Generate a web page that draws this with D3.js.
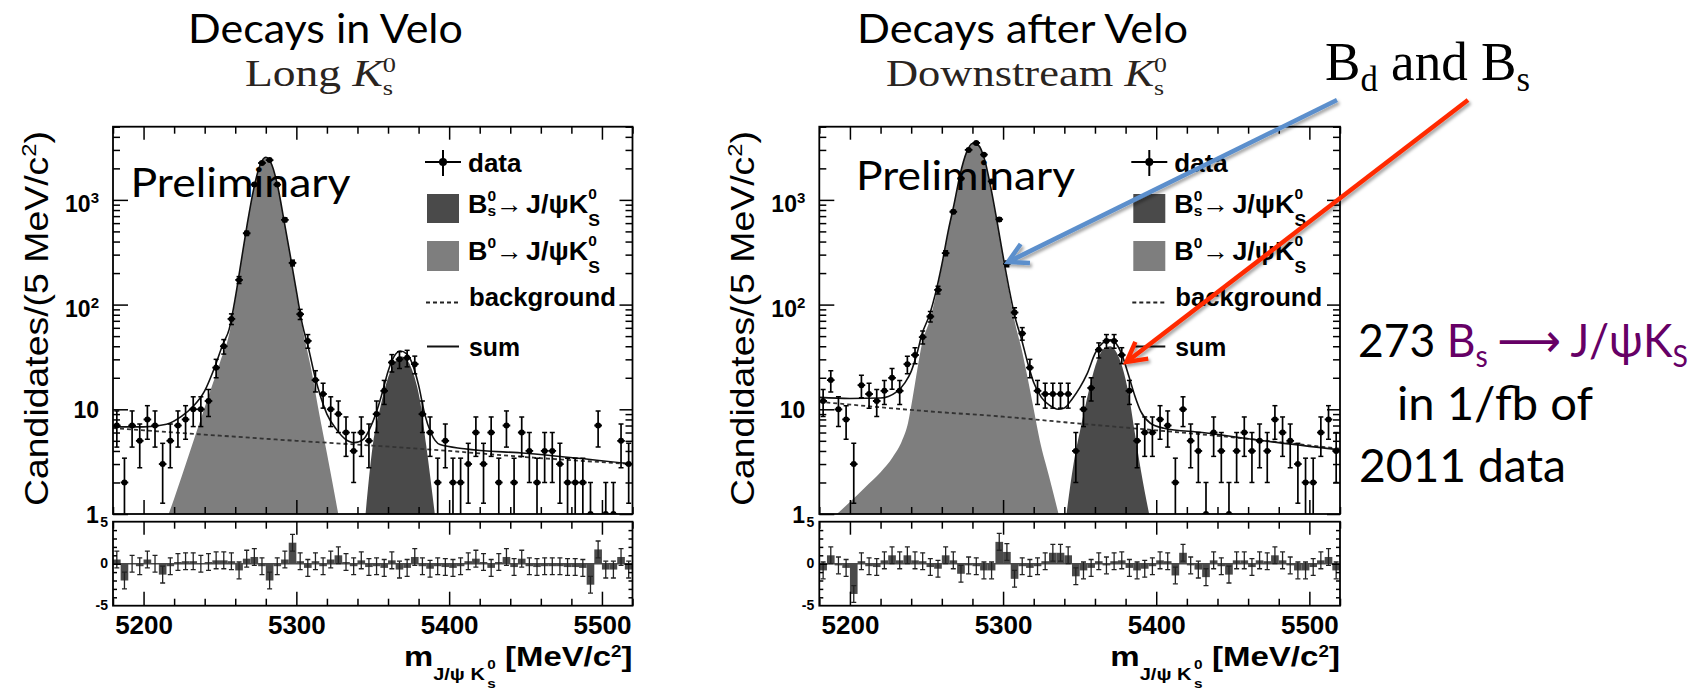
<!DOCTYPE html>
<html>
<head>
<meta charset="utf-8">
<script src="https://cdn.jsdelivr.net/npm/d3@7"></script>
<style>
body{margin:0;background:#fff;}
svg{display:block;}
text{white-space:pre;}
</style>
</head>
<body>
<svg id="chart" width="1707" height="692"></svg>
<script>
// ---- values ----
// 5 MeV bins from 5180 to 5520
var binCenters = d3.range(5182.5, 5520, 5);

var countsLong = [7,2,7,5,8,7,3,5,7,8,10,10,12,25,40,73,172,480,1400,2250,2400,1400,645,250,81,45,19,14,10,9,6,4,6,5,9,15,28,30,31,27,9,6,2,5,2,2,3,6,3,6,2,7,2,6,4,2,4,4,3,2,2,2,1,7,1,1,5,3];
var countsDown = [12,19,10,8,3,17,14,12,15,20,15,27,33,49,77,138,310,770,1600,3000,3500,2700,1500,650,245,84,53,25,15,14,14,14,14,4,10,16,37,45,45,33,15,5,6,6,8,7,2,10,5,4,1,6,4,1,4,6,4,5,4,8,6,5,3,2,2,6,8,4];

var pullsLong = [0.5,-2.0,0,-0.3,0.5,0,-1.3,-0.3,0.2,0.3,0.3,0,0.2,0.4,0.4,0.3,-0.8,0.6,0.8,-0.3,-2.0,-0.3,0.5,2.5,0.3,-0.5,0.3,-0.3,0.5,1.0,0.2,-0.3,0.4,-0.4,-0.3,-0.5,0.4,-0.7,-0.5,0.8,-0.3,-0.6,-0.3,-0.4,-0.5,-0.3,0.3,0.6,0.2,-0.5,0.2,0.8,-0.4,0.6,-0.3,-0.4,-0.3,-0.3,-0.3,-0.4,-0.4,-0.5,-2.5,1.7,-0.7,-0.7,0.8,-0.7];
var pullsDown = [-0.8,1.0,-0.2,-0.5,-3.6,0.3,-0.3,-0.4,0.4,1.0,0.4,1.0,0.4,0.3,-0.4,-0.6,1.0,0.4,-1.2,-0.2,-0.3,-0.8,-0.8,2.6,1.4,-1.8,-0.3,-0.5,-0.3,0.3,1.3,1.3,1.0,-1.5,-0.8,-0.5,0.3,-0.2,0.3,0.4,-0.5,-0.8,-0.6,-0.3,0.4,0.3,-1.4,1.3,-0.2,-0.7,-1.6,0.4,-0.3,-1.3,0.4,0.4,-0.4,0.4,0.3,1.0,0.4,-0.2,-0.8,-0.8,-0.4,0.4,0.8,-0.8];

// fit curves: [mass, candidates]
var b0Long = [[5214,0.8],[5220,1.4],[5230,3.8],[5240,10.4],[5250,28],[5256,52],[5260,110],[5264,260],[5268,600],[5272,1250],[5276,2100],[5280,2550],[5284,2150],[5288,1300],[5292,620],[5296,290],[5300,130],[5304,60],[5310,23],[5315,9],[5320,3.8],[5328,0.9]];
var bsLong = [[5345,0.9],[5350,4.5],[5355,10.5],[5360,20],[5365,29],[5369,32],[5373,29],[5377,21],[5381,12],[5385,4.5],[5391,0.9]];
var bkgLong = [[5180,6.6],[5250,5.6],[5300,5.0],[5350,4.5],[5400,4.0],[5450,3.5],[5520,3.0]];
var sumLong = [[5180,6.8],[5200,6.8],[5215,7.2],[5225,8.6],[5232,10.5],[5240,15],[5246,24],[5252,42],[5256,58],[5260,115],[5264,265],[5268,605],[5272,1255],[5276,2105],[5280,2555],[5284,2155],[5288,1305],[5292,625],[5296,295],[5300,135],[5304,64],[5308,38],[5312,21],[5316,13],[5320,9],[5326,6.5],[5332,5.2],[5338,4.8],[5344,5.2],[5348,6.5],[5352,9],[5356,14],[5360,23],[5364,32],[5368,36],[5372,34],[5376,27],[5380,17],[5384,9],[5388,6],[5394,4.6],[5410,4.2],[5450,3.8],[5520,3.0]];

var b0Down = [[5188,0.9],[5200,1.3],[5210,1.8],[5220,2.5],[5228,3.5],[5234,5],[5238,7.5],[5241,13],[5244,24],[5247,42],[5252,70],[5256,120],[5260,230],[5264,480],[5268,900],[5272,1750],[5276,2800],[5280,3450],[5284,3300],[5288,2400],[5292,1300],[5296,620],[5300,280],[5304,130],[5308,65],[5312,38],[5316,20],[5320,10],[5324,5],[5330,2.3],[5337,0.9]];
var bsDown = [[5341,0.9],[5346,3],[5351,7],[5356,15],[5361,28],[5366,38],[5370,40],[5374,35],[5378,25],[5382,14],[5386,6],[5390,2.6],[5396,0.9]];
var bkgDown = [[5180,11.8],[5250,9.6],[5300,8.5],[5350,7.3],[5400,6.3],[5450,5.4],[5520,4.2]];
var sumDown = [[5180,13],[5200,12.7],[5220,12.8],[5230,14.5],[5236,18],[5240,23],[5244,35],[5247,52],[5252,80],[5256,130],[5260,240],[5264,490],[5268,910],[5272,1760],[5276,2810],[5280,3460],[5284,3310],[5288,2410],[5292,1310],[5296,630],[5300,290],[5304,140],[5308,74],[5312,47],[5316,28],[5320,18],[5325,13],[5330,11],[5336,10],[5340,10.3],[5345,12.5],[5350,16],[5355,22],[5360,34],[5366,44],[5370,46],[5374,42],[5378,32],[5382,21],[5386,13.5],[5390,9.5],[5396,7.4],[5405,6.6],[5430,6],[5470,5],[5520,4.1]];

var xTickValues = [5200, 5300, 5400, 5500];
var yTickValues = [1, 10, 100, 1000];
var yTickLabels = [["1",""],["10",""],["10","2"],["10","3"]];
var resTickValues = [5, 0, -5];
var resTickLabels = ["5", "0", "-5"];

// ---- layout ----
var mainTop = 126.7, mainBottom = 514, resTop = 521.7, resBottom = 605.7;
var lightGrey = "#7e7e7e", darkGrey = "#4a4a4a";
var helv = "'Liberation Sans', Arial, Helvetica, sans-serif";
var calibri = "Lato, 'Open Sans', sans-serif";
var serif = "'Liberation Serif', 'DejaVu Serif', serif";

var svg = d3.select("#chart");
var defs = svg.append("defs");
var sh = defs.append("filter").attr("id", "shadow").attr("x", "-10%").attr("y", "-10%").attr("width", "130%").attr("height", "130%");
sh.append("feDropShadow").attr("dx", 2).attr("dy", 2.5).attr("stdDeviation", 1.6)
  .attr("flood-color", "#000").attr("flood-opacity", 0.35);

// text made of pieces (sup/sub); returns a group with baseline at y=0
function richText(parent, parts, base){
  var g = parent.append("g");
  var cx = 0, holdW = 0;
  parts.forEach(function(p){
    var t = g.append("text")
      .attr("x", cx).attr("y", p.dy || 0)
      .attr("font-family", p.family || base.family)
      .attr("font-size", p.size || base.size)
      .attr("font-weight", p.weight || base.weight || "normal")
      .attr("font-style", p.style || "normal")
      .attr("fill", p.fill || base.fill || "#000")
      .text(p.t);
    var w = t.node().getComputedTextLength();
    if(p.hold){ holdW = Math.max(holdW, w); }
    else { cx += Math.max(w, holdW) + (p.gap || 0); holdW = 0; }
  });
  return g;
}
// stretch a group between xa and xb, baseline y
function place(g, xa, xb, y){
  var bb = g.node().getBBox();
  var sx = (xb - xa) / bb.width;
  g.attr("transform", "translate(" + (xa - bb.x * sx) + "," + y + ") scale(" + sx + ",1)");
}
function placeRight(g, xr, y){
  var bb = g.node().getBBox();
  g.attr("transform", "translate(" + (xr - bb.x - bb.width) + "," + y + ")");
}
function placeVertical(g, yBottom, yTop, xBase){
  var bb = g.node().getBBox();
  var s = (yBottom - yTop) / bb.width;
  g.attr("transform", "translate(" + xBase + "," + (yBottom + bb.x * s) + ") rotate(-90) scale(" + s + ",1)");
}

var panels = [
  {id:"long", x0:113, x1:632.5, counts:countsLong, pulls:pullsLong, b0:b0Long, bs:bsLong, bkg:bkgLong, sum:sumLong,
   title:"Decays in Velo", titleSpan:[188,463], sub:"Long", subSpan:[245,396],
   prelimSpan:[130.5,351], prelimBase:197},
  {id:"down", x0:819.3, x1:1340, counts:countsDown, pulls:pullsDown, b0:b0Down, bs:bsDown, bkg:bkgDown, sum:sumDown,
   title:"Decays after Velo", titleSpan:[857,1188], sub:"Downstream", subSpan:[886,1167],
   prelimSpan:[856,1075.5], prelimBase:190}
];

panels.forEach(function(P){
  var x = d3.scaleLinear().domain([5180, 5520]).range([P.x0, P.x1]);
  var y = d3.scaleLog().domain([1, 5000]).range([mainBottom, mainTop]);
  var yr = d3.scaleLinear().domain([-5, 5]).range([resBottom, resTop]);
  var g = svg.append("g");

  defs.append("clipPath").attr("id", "clip-" + P.id).append("rect")
    .attr("x", P.x0).attr("y", mainTop).attr("width", P.x1 - P.x0).attr("height", mainBottom - mainTop);
  defs.append("clipPath").attr("id", "rclip-" + P.id).append("rect")
    .attr("x", P.x0).attr("y", resTop).attr("width", P.x1 - P.x0).attr("height", resBottom - resTop);

  var plot = g.append("g").attr("clip-path", "url(#clip-" + P.id + ")");
  var area = d3.area().curve(d3.curveMonotoneX)
    .x(function(d){ return x(d[0]); }).y0(mainBottom + 20).y1(function(d){ return y(d[1]); });
  var line = d3.line().curve(d3.curveMonotoneX)
    .x(function(d){ return x(d[0]); }).y(function(d){ return y(d[1]); });

  plot.append("path").attr("d", area(P.b0)).attr("fill", lightGrey);
  plot.append("path").attr("d", area(P.bs)).attr("fill", darkGrey);
  plot.append("path").attr("d", line(P.bkg)).attr("fill", "none").attr("stroke", "#333")
    .attr("stroke-width", 1.8).attr("stroke-dasharray", "4,3");
  plot.append("path").attr("d", line(P.sum)).attr("fill", "none").attr("stroke", "#111").attr("stroke-width", 1.6);

  // data points with poisson error bars
  var pts = plot.selectAll(".pt").data(binCenters.map(function(c, i){ return {c:c, n:P.counts[i]}; }))
    .enter().append("g").attr("class", "pt");
  pts.append("line")
    .attr("x1", function(d){ return x(d.c - 2.5); }).attr("x2", function(d){ return x(d.c + 2.5); })
    .attr("y1", function(d){ return y(d.n); }).attr("y2", function(d){ return y(d.n); })
    .attr("stroke", "#000").attr("stroke-width", 1.8);
  pts.append("line")
    .attr("x1", function(d){ return x(d.c); }).attr("x2", function(d){ return x(d.c); })
    .attr("y1", function(d){ return y(Math.max(d.n - Math.sqrt(d.n), 0.5)); })
    .attr("y2", function(d){ return y(d.n + Math.sqrt(d.n)); })
    .attr("stroke", "#000").attr("stroke-width", 1.7);
  [-1, 1].forEach(function(s){
    pts.append("line")
      .attr("x1", function(d){ return x(d.c) - 2.5; }).attr("x2", function(d){ return x(d.c) + 2.5; })
      .attr("y1", function(d){ return y(Math.max(d.n + s * Math.sqrt(d.n), 0.5)); })
      .attr("y2", function(d){ return y(Math.max(d.n + s * Math.sqrt(d.n), 0.5)); })
      .attr("stroke", "#000").attr("stroke-width", 1.5);
  });
  pts.append("circle").attr("cx", function(d){ return x(d.c); }).attr("cy", function(d){ return y(d.n); })
    .attr("r", 3).attr("fill", "#000");

  // residual panel
  var res = g.append("g").attr("clip-path", "url(#rclip-" + P.id + ")");
  res.append("line").attr("x1", P.x0).attr("x2", P.x1).attr("y1", yr(0)).attr("y2", yr(0))
    .attr("stroke", darkGrey).attr("stroke-width", 1.5);
  var rb = res.selectAll(".rb").data(binCenters.map(function(c, i){ return {c:c, p:P.pulls[i]}; }))
    .enter().append("g");
  rb.append("rect")
    .attr("x", function(d){ return x(d.c - 2.5); }).attr("width", x(5185) - x(5180))
    .attr("y", function(d){ return Math.min(yr(0), yr(d.p)); })
    .attr("height", function(d){ return Math.abs(yr(d.p) - yr(0)); })
    .attr("fill", darkGrey);
  rb.append("line").attr("x1", function(d){ return x(d.c); }).attr("x2", function(d){ return x(d.c); })
    .attr("y1", function(d){ return yr(d.p - 1); }).attr("y2", function(d){ return yr(d.p + 1); })
    .attr("stroke", "#222").attr("stroke-width", 1.3);
  [-1, 1].forEach(function(s){
    rb.append("line").attr("x1", function(d){ return x(d.c) - 2.5; }).attr("x2", function(d){ return x(d.c) + 2.5; })
      .attr("y1", function(d){ return yr(d.p + s); }).attr("y2", function(d){ return yr(d.p + s); })
      .attr("stroke", "#222").attr("stroke-width", 1.3);
  });

  // frames
  g.append("rect").attr("x", P.x0).attr("y", mainTop).attr("width", P.x1 - P.x0).attr("height", mainBottom - mainTop)
    .attr("fill", "none").attr("stroke", "#000").attr("stroke-width", 1.8);
  g.append("rect").attr("x", P.x0).attr("y", resTop).attr("width", P.x1 - P.x0).attr("height", resBottom - resTop)
    .attr("fill", "none").attr("stroke", "#000").attr("stroke-width", 1.8);

  // axes (ticks inside the frames, ROOT style)
  var minorX = d3.range(5180, 5521, 20).filter(function(v){ return xTickValues.indexOf(v) < 0; });
  function ticks(axis, tx, ty){
    var a = g.append("g").attr("transform", "translate(" + tx + "," + ty + ")").call(axis);
    a.select(".domain").remove();
    a.selectAll(".tick line").attr("stroke", "#000").attr("stroke-width", 1.5);
    return a;
  }
  [[mainTop, mainBottom], [resTop, resBottom]].forEach(function(fr){
    ticks(d3.axisTop(x).tickValues(xTickValues).tickSize(-13).tickFormat(""), 0, fr[0]);
    ticks(d3.axisTop(x).tickValues(minorX).tickSize(-7).tickFormat(""), 0, fr[0]);
    ticks(d3.axisBottom(x).tickValues(minorX).tickSize(-7).tickFormat(""), 0, fr[1]);
  });
  ticks(d3.axisBottom(x).tickValues(xTickValues).tickSize(-14).tickFormat(""), 0, mainBottom);
  var xa = ticks(d3.axisBottom(x).tickValues(xTickValues).tickSize(-14).tickPadding(10).tickFormat(d3.format("d")), 0, resBottom);
  xa.selectAll("text").attr("font-family", helv).attr("font-size", 26).attr("font-weight", "bold").attr("fill", "#000");

  var minorY = [];
  [1, 10, 100, 1000].forEach(function(d){ for(var k = 2; k <= 9; k++){ if(d * k <= 5000) minorY.push(d * k); } });
  ticks(d3.axisLeft(y).tickValues(yTickValues).tickSize(-15).tickFormat(""), P.x0, 0);
  ticks(d3.axisLeft(y).tickValues(minorY).tickSize(-7).tickFormat(""), P.x0, 0);
  ticks(d3.axisRight(y).tickValues(yTickValues).tickSize(-13).tickFormat(""), P.x1, 0);
  ticks(d3.axisRight(y).tickValues(minorY).tickSize(-7).tickFormat(""), P.x1, 0);

  var minorR = d3.range(-4, 5).filter(function(v){ return v !== 0; });
  ticks(d3.axisLeft(yr).tickValues([0]).tickSize(-8).tickFormat(""), P.x0, 0);
  ticks(d3.axisLeft(yr).tickValues(minorR).tickSize(-4).tickFormat(""), P.x0, 0);
  ticks(d3.axisRight(yr).tickValues([0]).tickSize(-8).tickFormat(""), P.x1, 0);
  ticks(d3.axisRight(yr).tickValues(minorR).tickSize(-4).tickFormat(""), P.x1, 0);

  // log labels
  yTickValues.forEach(function(v, i){
    var lab = yTickLabels[i];
    var parts = [{t:lab[0]}];
    if(lab[1]) parts.push({t:lab[1], size:15, dy:-9});
    var tg = richText(g, parts, {family:helv, size:23, weight:"bold"});
    placeRight(tg, P.x0 - 14, y(v) + (lab[1] ? 12 : 8.5));
  });
  resTickValues.forEach(function(v, i){
    g.append("text").attr("x", P.x0 - 5).attr("y", yr(v) + (v === 5 ? 5.3 : 4.5))
      .attr("text-anchor", "end").attr("font-family", helv).attr("font-size", 14).attr("font-weight", "bold")
      .text(resTickLabels[i]);
  });

  // axis titles
  var yt = richText(g, [{t:"Candidates/(5 MeV/c"}, {t:"2", size:21, dy:-12}, {t:")"}], {family:helv, size:33});
  placeVertical(yt, 506, 131, P.x0 - 65);
  var xt = richText(g, [{t:"m"}, {t:"J/\u03c8 K", size:17, dy:14, gap:2}, {t:"0", size:13, dy:3, hold:true}, {t:"s", size:13, dy:22, gap:8}, {t:"[MeV/c"}, {t:"2", size:16, dy:-9}, {t:"]"}],
    {family:helv, size:28, weight:"bold"});
  place(xt, x(5180) + (404 - 113), P.x1, 666);

  // legend
  var lx = P.x0 + 312, tx = P.x0 + 355;
  g.append("line").attr("x1", lx).attr("x2", lx + 36).attr("y1", 162).attr("y2", 162).attr("stroke", "#000").attr("stroke-width", 2);
  g.append("line").attr("x1", lx + 18).attr("x2", lx + 18).attr("y1", 150).attr("y2", 176).attr("stroke", "#000").attr("stroke-width", 2);
  g.append("circle").attr("cx", lx + 18).attr("cy", 162).attr("r", 4).attr("fill", "#000");
  g.append("rect").attr("x", lx + 2).attr("y", 194).attr("width", 32).attr("height", 29).attr("fill", darkGrey);
  g.append("rect").attr("x", lx + 2).attr("y", 241).attr("width", 32).attr("height", 30).attr("fill", lightGrey);
  g.append("line").attr("x1", lx + 1).attr("x2", lx + 35).attr("y1", 302.5).attr("y2", 302.5)
    .attr("stroke", "#222").attr("stroke-width", 1.8).attr("stroke-dasharray", "4,3");
  g.append("line").attr("x1", lx + 2).attr("x2", lx + 34).attr("y1", 346.5).attr("y2", 346.5)
    .attr("stroke", "#111").attr("stroke-width", 2);
  var lbase = {family:helv, size:26, weight:"bold"};
  place(richText(g, [{t:"data"}], lbase), tx, tx + 54, 171.5);
  place(richText(g, [{t:"B"}, {t:"0", size:15, dy:-12, hold:true}, {t:"s", size:15, dy:3}, {t:"\u2192", gap:3}, {t:"J/\u03c8K"}, {t:"0", size:15, dy:-14, hold:true}, {t:"S", size:17, dy:13}], lbase), tx, tx + 132, 213);
  place(richText(g, [{t:"B"}, {t:"0", size:15, dy:-12}, {t:"\u2192", gap:3}, {t:"J/\u03c8K"}, {t:"0", size:15, dy:-14, hold:true}, {t:"S", size:17, dy:13}], lbase), tx, tx + 132, 260);
  place(richText(g, [{t:"background"}], lbase), tx + 1, tx + 148, 306);
  place(richText(g, [{t:"sum"}], lbase), tx + 1, tx + 52, 356);

  // titles
  place(richText(g, [{t:"Preliminary"}], {family:calibri, size:40}), P.prelimSpan[0], P.prelimSpan[1], P.prelimBase);
  place(richText(g, [{t:P.title}], {family:calibri, size:41}), P.titleSpan[0], P.titleSpan[1], 43);
  place(richText(g, [{t:P.sub + " "}, {t:"K", style:"italic"}, {t:"0", size:22, dy:-14, hold:true}, {t:"s", size:22, dy:9}],
    {family:serif, size:38, fill:"#2a2420"}), P.subSpan[0], P.subSpan[1], 86);
});

// annotations on the right
place(richText(svg, [{t:"B"}, {t:"d", size:36, dy:11}, {t:" and B"}, {t:"s", size:36, dy:11}], {family:serif, size:55}), 1325, 1530, 80);

var purple = "#660066";
var cbase = {family:calibri, size:47};
place(richText(svg, [{t:"273 "}, {t:"B", fill:purple}, {t:"s", size:30, dy:10, fill:purple, gap:10},
  {t:"\u27f6", fill:purple, family:"'DejaVu Sans', sans-serif", gap:10}, {t:"J/\u03c8K", fill:purple}, {t:"S", size:30, dy:10, fill:purple}], cbase), 1358, 1688, 357);
place(richText(svg, [{t:"in 1/fb of"}], cbase), 1397, 1593, 420);
place(richText(svg, [{t:"2011 data"}], cbase), 1359, 1566, 482);

// arrows
var arrows = [
  {from:[1337, 100], to:[1008, 262], color:"#5b8fcc"},
  {from:[1468, 100], to:[1126.5, 362], color:"#ff2a00"}
];
arrows.forEach(function(a){
  var ag = svg.append("g").attr("filter", "url(#shadow)");
  var dx = a.to[0] - a.from[0], dy = a.to[1] - a.from[1], L = Math.sqrt(dx * dx + dy * dy);
  var ux = dx / L, uy = dy / L, len = 22, ang = 0.5;
  function arm(s){
    var c = Math.cos(s * ang), sn = Math.sin(s * ang);
    return [a.to[0] - len * (ux * c - uy * sn), a.to[1] - len * (ux * sn + uy * c)];
  }
  ag.append("line").attr("x1", a.from[0]).attr("y1", a.from[1]).attr("x2", a.to[0] - ux * 2).attr("y2", a.to[1] - uy * 2)
    .attr("stroke", a.color).attr("stroke-width", 4.5);
  ag.append("path").attr("d", d3.line()([arm(1), a.to, arm(-1)]))
    .attr("fill", "none").attr("stroke", a.color).attr("stroke-width", 4.5).attr("stroke-linejoin", "miter");
});
</script>
</body>
</html>
